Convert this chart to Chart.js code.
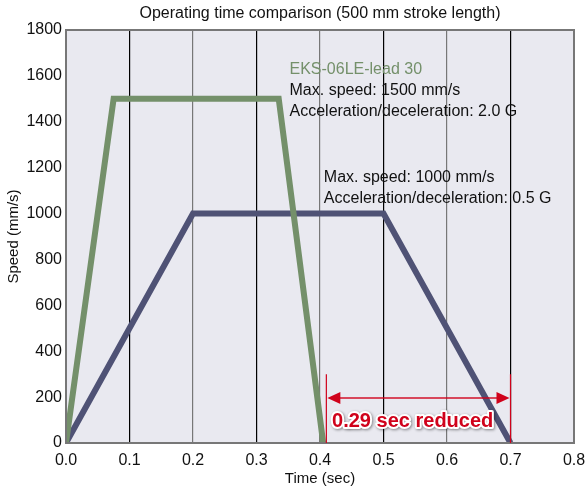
<!DOCTYPE html>
<html>
<head>
<meta charset="utf-8">
<script src="https://cdn.jsdelivr.net/npm/chart.js@4.4.1/dist/chart.umd.min.js"></script>
<style>
  html, body { margin: 0; padding: 0; background: #fff; }
  #wrap { width: 585px; height: 488px; }
</style>
</head>
<body>
<div id="wrap"><canvas id="graph"></canvas></div>
<script>
// data
var xTicks = [0, 0.1, 0.2, 0.3, 0.4, 0.5, 0.6, 0.7, 0.8];
var yTicks = [0, 200, 400, 600, 800, 1000, 1200, 1400, 1600, 1800];

var greenTime = [0, 0.075, 0.335, 0.405];
var greenSpeed = [0, 1500, 1500, 0];
var blueTime = [0, 0.2, 0.5, 0.7];
var blueSpeed = [0, 1000, 1000, 0];

var chartTitle = 'Operating time comparison (500 mm stroke length)';

// annotation anchors (data coords)
var greenNote = { x: 0.352, lines: ['EKS-06LE-lead 30', 'Max. speed: 1500 mm/s', 'Acceleration/deceleration: 2.0 G'], y: [1628, 1538, 1444] };
var blueNote = { x: 0.406, lines: ['Max. speed: 1000 mm/s', 'Acceleration/deceleration: 0.5 G'], y: [1156, 1064] };
var reduced = { from: 0.41, to: 0.7, top: 300, arrowY: 196, textX: 0.419, textY: 93, text: '0.29 sec reduced' };

const toPoints = (xs, ys) => xs.map((x, i) => ({ x: x, y: ys[i] }));

const GREEN = '#74906a';
const BLUE = '#4f5275';
const RED = '#d0021b';
const FONT = '"Liberation Sans", Arial, sans-serif';

// background + frame + title + notes
const decorPlugin = {
    id: 'decor',
    beforeDraw(chart) {
        const { ctx, chartArea: a } = chart;
        ctx.save();
        ctx.fillStyle = '#e9e9f0';
        ctx.fillRect(a.left, a.top, a.right - a.left, a.bottom - a.top);
        // title centred over the plot area
        ctx.fillStyle = '#111';
        ctx.font = '16px ' + FONT;
        ctx.textAlign = 'center';
        ctx.textBaseline = 'middle';
        ctx.fillText(chartTitle, (a.left + a.right) / 2, 14);
        ctx.restore();
    },
    afterDatasetsDraw(chart) {
        const { ctx, chartArea: a } = chart;
        const xs = chart.scales.x, ys = chart.scales.y;
        ctx.save();
        // frame
        ctx.strokeStyle = '#777';
        ctx.lineWidth = 2;
        ctx.strokeRect(a.left, a.top, a.right - a.left, a.bottom - a.top);

        // text notes
        ctx.font = '16px ' + FONT;
        ctx.textBaseline = 'middle';
        ctx.textAlign = 'left';
        greenNote.lines.forEach((t, i) => {
            ctx.fillStyle = i == 0 ? GREEN : '#111';
            ctx.fillText(t, xs.getPixelForValue(greenNote.x), ys.getPixelForValue(greenNote.y[i]));
        });
        ctx.fillStyle = '#111';
        blueNote.lines.forEach((t, i) => {
            ctx.fillText(t, xs.getPixelForValue(blueNote.x), ys.getPixelForValue(blueNote.y[i]));
        });

        // red reduction marker
        const x1 = xs.getPixelForValue(reduced.from);
        const x2 = xs.getPixelForValue(reduced.to);
        const yTop = ys.getPixelForValue(reduced.top);
        const yBot = ys.getPixelForValue(0);
        const yA = ys.getPixelForValue(reduced.arrowY);
        ctx.strokeStyle = RED;
        ctx.fillStyle = RED;
        ctx.lineWidth = 1.2;
        ctx.beginPath();
        ctx.moveTo(x1, yTop); ctx.lineTo(x1, yBot);
        ctx.moveTo(x2, yTop); ctx.lineTo(x2, yBot);
        ctx.stroke();
        ctx.strokeStyle = 'rgba(208,2,27,0.7)';
        ctx.lineWidth = 2;
        ctx.beginPath();
        ctx.moveTo(x1 + 10, yA); ctx.lineTo(x2 - 10, yA);
        ctx.stroke();
        ctx.beginPath();
        ctx.moveTo(x1 + 1, yA); ctx.lineTo(x1 + 14, yA - 6); ctx.lineTo(x1 + 14, yA + 6); ctx.closePath();
        ctx.moveTo(x2 - 1, yA); ctx.lineTo(x2 - 14, yA - 6); ctx.lineTo(x2 - 14, yA + 6); ctx.closePath();
        ctx.fill();

        ctx.font = 'bold 20px ' + FONT;
        const tx = xs.getPixelForValue(reduced.textX);
        const ty = ys.getPixelForValue(reduced.textY);
        ctx.lineJoin = 'round';
        ctx.shadowColor = 'rgba(0,0,0,0.45)';
        ctx.shadowBlur = 3;
        ctx.shadowOffsetX = 1;
        ctx.shadowOffsetY = 1;
        ctx.strokeStyle = '#fff';
        ctx.lineWidth = 4;
        ctx.strokeText(reduced.text, tx, ty);
        ctx.shadowColor = 'transparent';
        ctx.fillStyle = RED;
        ctx.fillText(reduced.text, tx, ty);
        ctx.restore();
    }
};

var ctx = document.getElementById('graph').getContext('2d');
var myChart = new Chart(ctx, {
    type: 'scatter',
    data: {
        datasets: [{
            label: 'EKS-06LE-lead 30',
            data: toPoints(greenTime, greenSpeed),
            showLine: true,
            borderColor: GREEN,
            borderWidth: 6,
            pointRadius: 0,
            borderJoinStyle: 'miter',
            tension: 0
        }, {
            label: 'Reference',
            data: toPoints(blueTime, blueSpeed),
            showLine: true,
            borderColor: BLUE,
            borderWidth: 6,
            pointRadius: 0,
            borderJoinStyle: 'miter',
            tension: 0
        }]
    },
    options: {
        responsive: true,
        maintainAspectRatio: false,
        animation: false,
        layout: {
            padding: { top: 30, left: 0, right: 11, bottom: 0 }
        },
        scales: {
            x: {
                type: 'linear',
                min: 0,
                max: 0.8,
                afterBuildTicks: (scale) => { scale.ticks = xTicks.map(v => ({ value: v })); },
                afterFit: (scale) => {
                    scale.height = 45;
                    scale.paddingLeft = 0;
                    scale.paddingRight = 0;
                },
                ticks: {
                    color: '#111',
                    font: { size: 16, family: FONT },
                    padding: 8,
                    maxRotation: 0,
                    callback: (v) => v.toFixed(1)
                },
                grid: {
                    drawTicks: false,
                    color: (c) => (c.index % 2 == 1 ? '#000' : '#777'),
                    lineWidth: 1.2
                },
                border: { display: false },
                title: {
                    display: true,
                    text: 'Time (sec)',
                    color: '#111',
                    font: { size: 15, family: FONT },
                    padding: { top: 0, bottom: 0 }
                }
            },
            y: {
                min: 0,
                max: 1800,
                afterBuildTicks: (scale) => { scale.ticks = yTicks.map(v => ({ value: v })); },
                afterFit: (scale) => {
                    scale.width = 66;
                    scale.paddingTop = 0;
                    scale.paddingBottom = 0;
                },
                ticks: {
                    color: '#111',
                    font: { size: 16, family: FONT },
                    padding: 4,
                    callback: (v) => String(v)
                },
                grid: { display: false, drawTicks: false, tickLength: 0 },
                border: { display: false },
                title: {
                    display: true,
                    text: 'Speed (mm/s)',
                    color: '#111',
                    font: { size: 15, family: FONT },
                    padding: { top: 5, bottom: 0 }
                }
            }
        },
        plugins: {
            legend: { display: false },
            tooltip: { enabled: false },
            title: { display: false }
        }
    },
    plugins: [decorPlugin]
});
</script>
</body>
</html>
